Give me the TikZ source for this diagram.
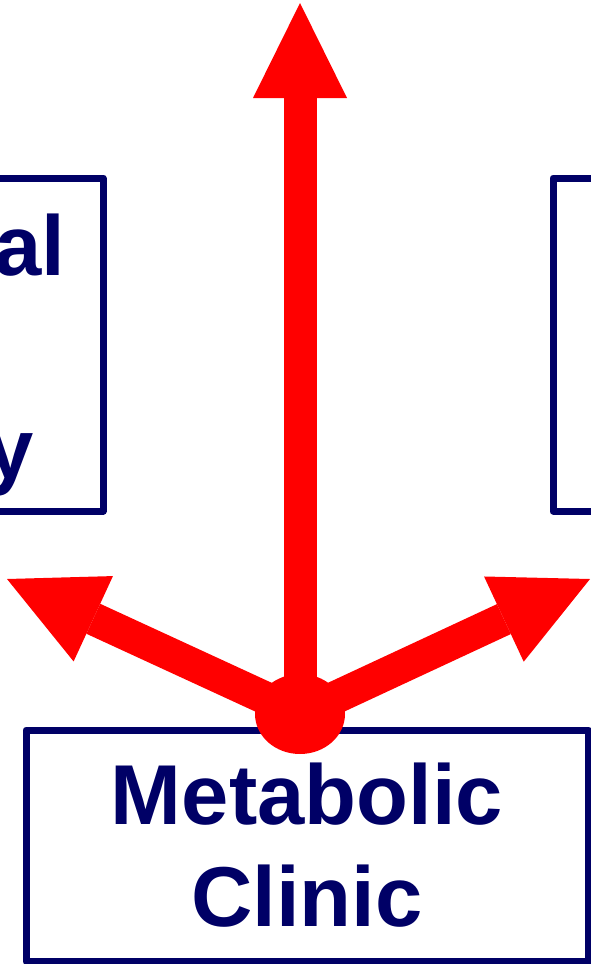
\documentclass[tikz,border=0pt]{standalone}
\usepackage{fontspec}
\setmainfont{Liberation Sans}
\usetikzlibrary{arrows.meta,shapes.geometric}
\definecolor{clinicnavy}{RGB}{0,0,102}
\definecolor{hubred}{RGB}{255,0,0}

\begin{document}
\begin{tikzpicture}[x=1pt, y=-1pt,
  every node/.style={font=\fontsize{85}{102}\selectfont\bfseries, text=clinicnavy},
  box/.style={draw=clinicnavy, line width=7pt, line join=round, outer sep=0pt, inner sep=0pt},
  spoke/.style={draw=hubred, line width=33pt, -{Triangle[length=95pt,width=94pt,line width=0pt]}}]
\useasboundingbox (0,0) rectangle (591,964);
% side boxes, cut by the page edge
\node[box, minimum width=400pt, minimum height=333pt, anchor=north east] (leftbox) at (103,178) {};
\node[box, minimum width=400pt, minimum height=333pt, anchor=north west] (rightbox) at (553,178) {};
\node[anchor=base east, inner sep=0pt] (leftfirst) at (65.5,275) {al};
\node[anchor=base east, inner sep=0pt] (leftlast) at (34,478) {y};
\node[box, minimum width=562pt, minimum height=231pt, align=center] (clinic) at (307,845.5) {Metabolic\\Clinic};
% red spokes from the hub
\coordinate (hubcentre) at (300,714);
\coordinate (uptip) at (300,3);
\coordinate (lefttip) at (7,579);
\coordinate (righttip) at (590,579);
\draw[spoke] (hubcentre) -- (uptip);
\draw[spoke] (hubcentre) -- (lefttip);
\draw[spoke] (hubcentre) -- (righttip);
\node[ellipse, fill=hubred, minimum width=90pt, minimum height=80pt, inner sep=0pt] (hub) at (hubcentre) {};
\end{tikzpicture}
\end{document}
